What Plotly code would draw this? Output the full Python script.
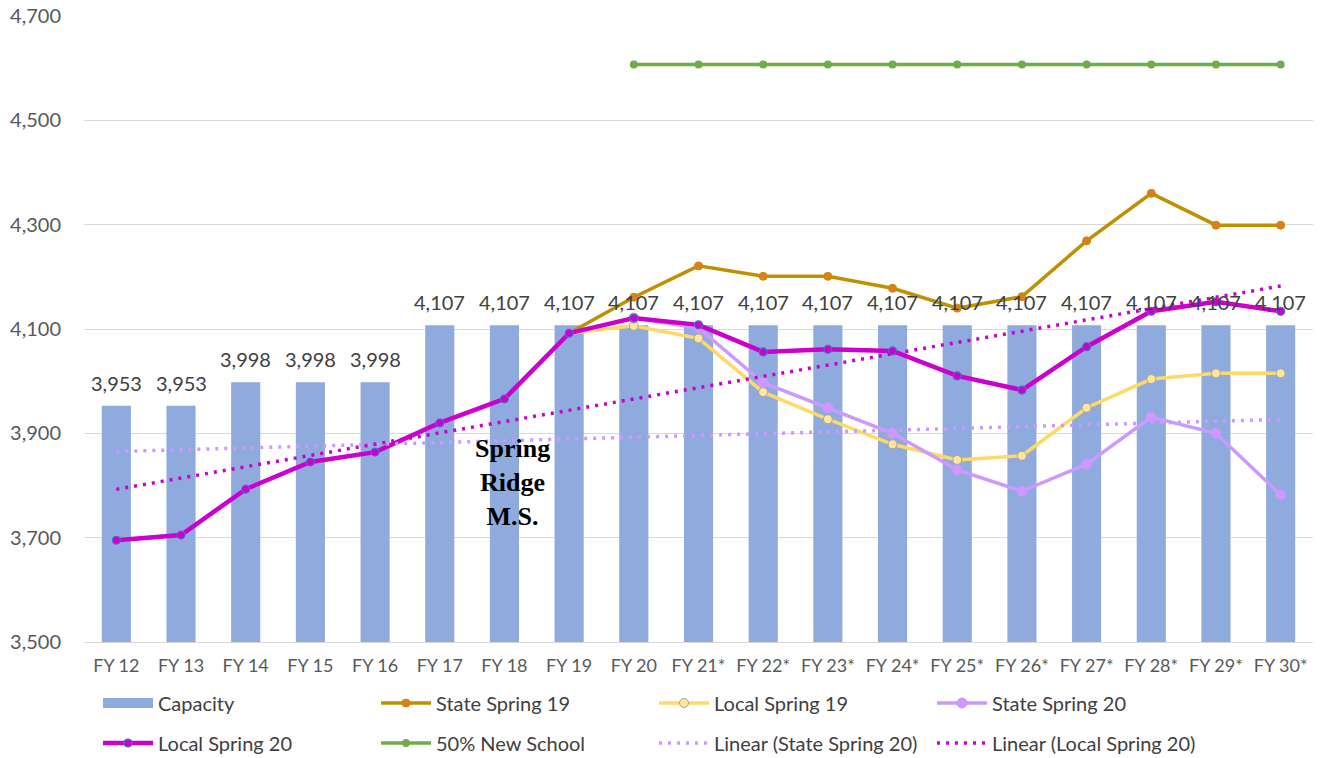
import numpy as np
import plotly.graph_objects as go

categories = ["FY 12", "FY 13", "FY 14", "FY 15", "FY 16", "FY 17", "FY 18", "FY 19", "FY 20",
              "FY 21*", "FY 22*", "FY 23*", "FY 24*", "FY 25*", "FY 26*", "FY 27*", "FY 28*",
              "FY 29*", "FY 30*"]
capacity = [3953, 3953, 3998, 3998, 3998, 4107, 4107, 4107, 4107, 4107, 4107, 4107, 4107,
            4107, 4107, 4107, 4107, 4107, 4107]
state_spring_19 = [None, None, None, None, None, None, None, 4092, 4161, 4221, 4201, 4201, 4178,
                   4140, 4162, 4269, 4360, 4299, 4299]
local_spring_19 = [None, None, None, None, None, None, None, 4092, 4106, 4082, 3979, 3927, 3879,
                   3849, 3857, 3949, 4004, 4015, 4015]
state_spring_20 = [3695, 3705, 3793, 3845, 3864, 3920, 3966, 4092, 4121, 4102, 3997, 3949, 3900,
                   3830, 3789, 3841, 3931, 3900, 3782]
local_spring_20 = [3695, 3705, 3793, 3845, 3864, 3920, 3966, 4092, 4121, 4108, 4056, 4061, 4058,
                   4010, 3983, 4066, 4134, 4152, 4134]
new_school_50 = [None, None, None, None, None, None, None, None, 4607, 4607, 4607, 4607, 4607,
                 4607, 4607, 4607, 4607, 4607, 4607]
y_ticks = [3500, 3700, 3900, 4100, 4300, 4500, 4700]


def linear_trend(values):
    idx = np.arange(1, len(values) + 1, dtype=float)
    vals = np.array([np.nan if v is None else v for v in values], dtype=float)
    mask = ~np.isnan(vals)
    slope, intercept = np.polyfit(idx[mask], vals[mask], 1)
    return list(slope * idx + intercept)


FONT = "Lato, 'Open Sans', sans-serif"
BAR_COLOR = "#8faadc"
FIG_W, FIG_H = 1323, 758

fig = go.Figure()

fig.add_trace(go.Bar(
    x=categories, y=capacity, name="Capacity", marker=dict(color=BAR_COLOR, line=dict(width=0)),
    width=0.45, showlegend=False))
# legend entry for Capacity drawn as a wide swatch
fig.add_trace(go.Scatter(
    x=[None], y=[None], name="Capacity", mode="lines",
    line=dict(color=BAR_COLOR, width=16), legend="legend"))

fig.add_trace(go.Scatter(
    x=categories, y=state_spring_19, name="State Spring 19", mode="lines+markers",
    line=dict(color="#bf9000", width=3.5),
    marker=dict(size=8, color="#e07b1f", line=dict(color="#bf9000", width=1)), legend="legend"))

fig.add_trace(go.Scatter(
    x=categories, y=local_spring_19, name="Local Spring 19", mode="lines+markers",
    line=dict(color="#ffd966", width=3.5),
    marker=dict(size=9, color="#ffe699", line=dict(color="#a6a6a6", width=1)), legend="legend"))

fig.add_trace(go.Scatter(
    x=categories, y=state_spring_20, name="State Spring 20", mode="lines+markers",
    line=dict(color="#cc99ff", width=3.5),
    marker=dict(size=10, color="#cc99ff", line=dict(color="#cc99ff", width=1)), legend="legend"))

fig.add_trace(go.Scatter(
    x=categories, y=local_spring_20, name="Local Spring 20", mode="lines+markers",
    line=dict(color="#cc00cc", width=4.5),
    marker=dict(size=8, color="#cc00cc", line=dict(color="#4472c4", width=1.2)), legend="legend2"))

fig.add_trace(go.Scatter(
    x=categories, y=new_school_50, name="50% New School", mode="lines+markers",
    line=dict(color="#70ad47", width=3.5),
    marker=dict(size=8, color="#70ad47"), legend="legend2"))

fig.add_trace(go.Scatter(
    x=categories, y=linear_trend(state_spring_20), name="Linear (State Spring 20)", mode="lines",
    line=dict(color="#cc99ff", width=3.5, dash="3px,6px"), legend="legend2"))

fig.add_trace(go.Scatter(
    x=categories, y=linear_trend(local_spring_20), name="Linear (Local Spring 20)", mode="lines",
    line=dict(color="#cc00cc", width=3.5, dash="3px,6px"), legend="legend2"))

# data labels above capacity bars
for cat, val in zip(categories, capacity):
    fig.add_annotation(
        x=cat, y=val, xref="x", yref="y", text=f"{val:,}", showarrow=False,
        yanchor="middle", yshift=23,
        font=dict(size=20, color="#404040", family=FONT))

fig.add_annotation(
    x="FY 18", y=3805, xref="x", yref="y", xshift=8,
    text="<b>Spring</b><br><b>Ridge</b><br><b>M.S.</b>", showarrow=False,
    font=dict(family="'Liberation Serif', 'Times New Roman', serif", size=26, color="#000000"),
    align="center")

legend_common = dict(
    orientation="h", xref="container", yref="container", xanchor="left", yanchor="middle",
    font=dict(size=20, color="#404040", family=FONT), entrywidth=213, entrywidthmode="pixels",
    itemwidth=50, bgcolor="rgba(0,0,0,0)", itemclick=False, itemdoubleclick=False,
)

fig.update_layout(
    width=FIG_W, height=FIG_H,
    margin=dict(l=84, r=FIG_W - 1313, t=16, b=FIG_H - 642, autoexpand=False),
    paper_bgcolor="white", plot_bgcolor="white",
    font=dict(family=FONT, color="#595959"),
    showlegend=True,
    legend=dict(x=98 / FIG_W, y=1 - 703 / FIG_H, **legend_common),
    legend2=dict(x=98 / FIG_W, y=1 - 743 / FIG_H, **legend_common),
    xaxis=dict(
        type="category", categoryorder="array", categoryarray=categories,
        range=[-0.5, len(categories) - 0.5], autorange=False,
        showgrid=False, showline=True, linecolor="#d9d9d9", linewidth=1,
        ticks="", tickfont=dict(size=18, color="#595959", family=FONT), ticklabelstandoff=7,
    ),
    yaxis=dict(
        range=[3500, 4700], tickvals=y_ticks, ticktext=[f"{v:,}" for v in y_ticks],
        showgrid=True, gridcolor="#d9d9d9", gridwidth=1, zeroline=False, showline=False,
        tickfont=dict(size=20, color="#595959", family=FONT), ticklabelstandoff=22,
        ticklabeloverflow="allow",
    ),
)

# remove the browser's default 8px body margin so the figure fills the window exactly
fig.write_html(
    "out.html",
    config={"displayModeBar": False},
    post_script="document.body.style.margin='0';document.body.style.overflow='hidden';",
)
